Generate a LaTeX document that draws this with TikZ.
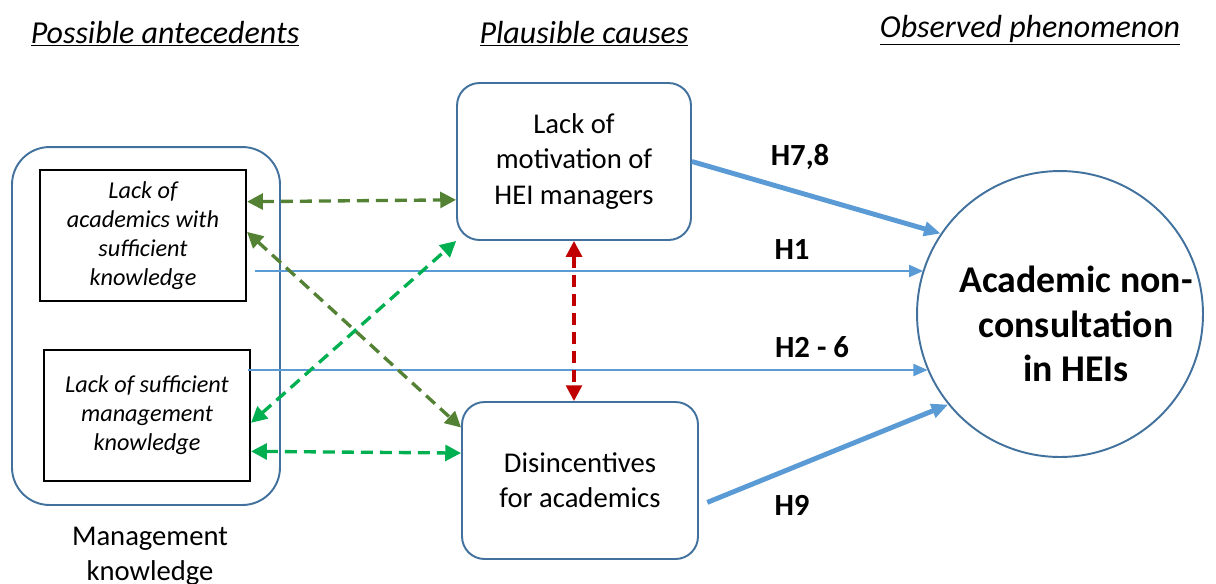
\documentclass[tikz,border=0pt]{standalone}
\usepackage{fontspec}
\setmainfont{Carlito}
\usetikzlibrary{arrows.meta}

\definecolor{boxblue}{HTML}{41719C}
\definecolor{lineblue}{HTML}{5B9BD5}
\definecolor{dkgreen}{HTML}{548235}
\definecolor{brgreen}{HTML}{00B050}
\definecolor{dkred}{HTML}{C00000}

\begin{document}
\begin{tikzpicture}[x=0.02cm, y=-0.02cm,
	head/.style={font=\fontsize{18.2}{21}\selectfont\itshape, anchor=base},
	inbox/.style={draw=black, line width=1.2pt, minimum width=4.12cm, minimum height=2.62cm, align=center, font=\fontsize{13.8}{16.5}\selectfont\itshape},
	causebox/.style={draw=boxblue, line width=1.1pt, rounded corners=0.45cm, align=center, font=\fontsize{16.3}{20}\selectfont},
	hyp/.style={font=\fontsize{17.5}{21}\selectfont\bfseries},
	thinarr/.style={draw=lineblue, line width=0.7pt, -{Triangle[length=8pt,width=7pt]}},
	thickarr/.style={draw=lineblue, line width=2.8pt, -{Triangle[length=9.5pt,width=8pt]}},
	dasharr/.style={line width=1.9pt, dash pattern=on 6.8pt off 4pt, {Triangle[length=9pt,width=9pt]}-{Triangle[length=9pt,width=9pt]}}
	]
	\useasboundingbox (0,0) rectangle (1216,583);

	\node [head] (hant) at (165,43) {\underline{Possible antecedents}};
	\node [head] (hcau) at (584,43) {\underline{Plausible causes}};
	\node [head] (hobs) at (1030,37) {\underline{Observed phenomenon}};

	\node [draw=boxblue, line width=1.1pt, rounded corners=0.75cm, minimum width=5.36cm, minimum height=7.16cm] (mk) at (146,326) {};
	\node [inbox] (acad) at (143,235.5) {Lack of\\academics with\\sufficient\\knowledge};
	\node [inbox] (mgmt) at (147,415.5) {Lack of sufficient\\management\\knowledge};
	\node [align=center, font=\fontsize{16.3}{20}\selectfont] (mklab) at (150,556) {Management\\knowledge};

	\node [causebox, minimum width=4.68cm, minimum height=3.14cm] (motiv) at (574,161.5) {Lack of\\motivation of\\HEI managers};
	\node [causebox, minimum width=4.72cm, minimum height=3.14cm] (disinc) at (580,480.5) {Disincentives\\for academics};

	\node [draw=boxblue, line width=1.1pt, circle, minimum size=5.72cm] (circ) at (1060,314) {};
	\node [align=center, font=\fontsize{21.5}{25.5}\selectfont\bfseries] (phen) at (1076,324) {Academic non-\\consultation\\in HEIs};

	\node [hyp] (h78) at (800,157) {H7,8};
	\node [hyp] (h1) at (792,250) {H1};
	\node [hyp] (h26) at (812,347) {H2 - 6};
	\node [hyp] (h9) at (792,505) {H9};

	\coordinate (h1s) at (255,271);
	\coordinate (h26s) at (248,370);
	\draw [thinarr] (h1s) -- (h1s -| circ.162.5);
	\draw [thinarr] (h26s) -- (h26s -| circ.203);
	\draw [thickarr] (motiv.east) -- (circ.146.6);
	\draw [thickarr, shorten <=0.18cm] (disinc.-12) -- (circ.219);

	\draw [dasharr, dkgreen] (acad.18.5) -- (motiv.198.6);
	\draw [dasharr, dkgreen] (acad.2) -- (disinc.156);
	\draw [dasharr, brgreen] (mgmt.-4) -- (motiv.214);
	\draw [dasharr, brgreen] (mgmt.-19.5) -- (disinc.167);
	\draw [dasharr, dkred] (motiv.south) -- (motiv.south |- disinc.north);
\end{tikzpicture}
\end{document}
